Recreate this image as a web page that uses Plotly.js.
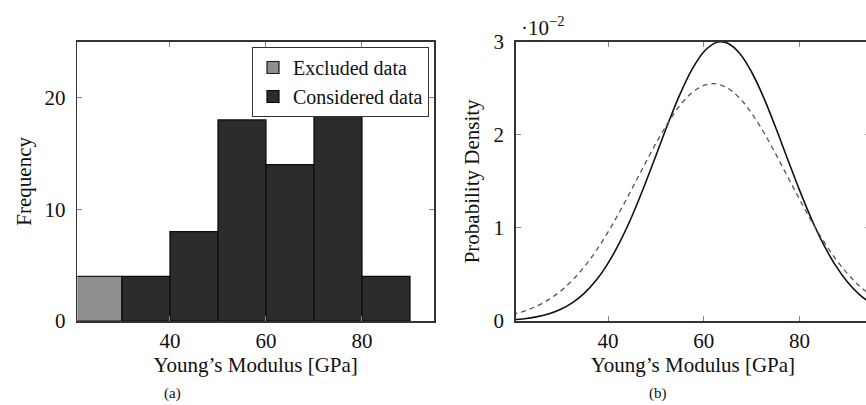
<!DOCTYPE html>
<html>
<head>
<meta charset="utf-8">
<script src="https://cdn.plot.ly/plotly-3.0.1.min.js"></script>
<style>
  html, body { margin: 0; padding: 0; overflow: hidden; background: #fff; }
  #chart { width: 880px; height: 405px; }
</style>
</head>
<body>
<div id="chart"></div>
<script>
// ---- Data ----
// (a) histogram of Young's modulus
const excludedBinCenters = [25];
const excludedCounts = [4];
const consideredBinCenters = [35, 45, 55, 65, 75, 85];
const consideredCounts = [4, 8, 18, 14, 20, 4];
const binWidth = 10;

// (b) probability density curves (values in units of 10^-2)
const modulusSolid = [20, 22.5, 25, 27.5, 30, 32.5, 35, 37.5, 40, 42.5, 45, 47.5, 50, 52.5, 55, 57.5, 60, 62.5, 63.6, 65, 67.5, 70, 72.5, 75, 77.5, 80, 82.5, 85, 87.5, 90, 92.5, 95];
const densitySolid = [0.014, 0.025, 0.044, 0.075, 0.123, 0.195, 0.297, 0.437, 0.622, 0.853, 1.128, 1.442, 1.778, 2.118, 2.434, 2.70, 2.892, 2.99, 3.0, 2.983, 2.874, 2.672, 2.40, 2.078, 1.738, 1.403, 1.093, 0.822, 0.597, 0.418, 0.283, 0.185];
const modulusDashed = [20, 22.5, 25, 27.5, 30, 32.5, 35, 37.5, 40, 42.5, 45, 47.5, 50, 52.5, 55, 57.5, 60, 61.9, 62.5, 65, 67.5, 70, 72.5, 75, 77.5, 80, 82.5, 85, 87.5, 90, 92.5, 95];
const densityDashed = [0.070, 0.107, 0.158, 0.227, 0.318, 0.436, 0.581, 0.755, 0.957, 1.181, 1.422, 1.669, 1.909, 2.128, 2.314, 2.451, 2.531, 2.55, 2.549, 2.500, 2.392, 2.230, 2.027, 1.795, 1.550, 1.305, 1.071, 0.857, 0.668, 0.508, 0.376, 0.272];

// ---- Labels ----
const xTitle = 'Young’s Modulus [GPa]';
const yTitleA = 'Frequency';
const yTitleB = 'Probability Density';
const xTickVals = [40, 60, 80];
const yTickValsA = [0, 10, 20];
const yTickValsB = [0, 1, 2, 3];

const W = 880, H = 405;
const FONT = 'Liberation Serif, Times New Roman, serif';
const TXT = '#111';

const traces = [
  {
    type: 'bar', name: 'Excluded data',
    x: excludedBinCenters, y: excludedCounts, width: binWidth,
    marker: { color: '#8e8e8e', line: { color: '#1a1a1a', width: 1.2 } },
    xaxis: 'x', yaxis: 'y'
  },
  {
    type: 'bar', name: 'Considered data',
    x: consideredBinCenters, y: consideredCounts, width: binWidth,
    marker: { color: '#2c2c2c', line: { color: '#0a0a0a', width: 1.2 } },
    xaxis: 'x', yaxis: 'y'
  },
  {
    type: 'scatter', mode: 'lines', showlegend: false,
    x: modulusSolid, y: densitySolid,
    line: { color: '#111', width: 1.6, shape: 'spline' },
    xaxis: 'x2', yaxis: 'y2'
  },
  {
    type: 'scatter', mode: 'lines', showlegend: false,
    x: modulusDashed, y: densityDashed,
    line: { color: '#555', width: 1.3, dash: '5px,4px', shape: 'spline' },
    xaxis: 'x2', yaxis: 'y2'
  }
];

const axisCommon = {
  showline: true, linecolor: '#333', linewidth: 1.5, mirror: 'allticks',
  ticks: 'inside', ticklen: 5, tickcolor: '#888', tickwidth: 1,
  showgrid: false, zeroline: false, automargin: false,
  tickfont: { family: FONT, size: 21, color: TXT }
};

const yDom = [(H - 321) / H, (H - 41.7) / H];

const layout = {
  width: W, height: H,
  margin: { l: 0, r: 0, t: 0, b: 0 },
  paper_bgcolor: '#fff', plot_bgcolor: '#fff',
  font: { family: FONT, size: 21, color: TXT },
  barmode: 'overlay',
  showlegend: true,
  legend: {
    x: 429 / W, xanchor: 'right', y: (H - 47) / H, yanchor: 'top',
    bgcolor: '#fff', bordercolor: '#333', borderwidth: 1,
    font: { family: FONT, size: 20, color: TXT },
    tracegroupgap: 0, itemwidth: 30
  },
  xaxis: Object.assign({}, axisCommon, {
    domain: [77.3 / W, 434 / W], range: [20.7, 95], tickvals: xTickVals,
    anchor: 'y', ticklabelstandoff: 0,
    title: { text: xTitle, font: { family: FONT, size: 21, color: TXT }, standoff: 4 }
  }),
  yaxis: Object.assign({}, axisCommon, {
    domain: yDom, range: [0, 25], tickvals: yTickValsA, anchor: 'x',
    ticklabelstandoff: 6,
    title: { text: yTitleA, font: { family: FONT, size: 21, color: TXT }, standoff: 7 }
  }),
  xaxis2: Object.assign({}, axisCommon, {
    domain: [515.7 / W, 870 / W], range: [20.7, 94.7], tickvals: xTickVals,
    anchor: 'y2', ticklabelstandoff: 0,
    title: { text: xTitle, font: { family: FONT, size: 21, color: TXT }, standoff: 4 }
  }),
  yaxis2: Object.assign({}, axisCommon, {
    domain: yDom, range: [0, 3], tickvals: yTickValsB, anchor: 'x2',
    ticklabelstandoff: 6,
    title: { text: yTitleB, font: { family: FONT, size: 21, color: TXT }, standoff: 8 }
  }),
  annotations: [
    { text: '(a)', x: 172 / W, y: (H - 393) / H, xref: 'paper', yref: 'paper',
      xanchor: 'center', yanchor: 'middle', showarrow: false,
      font: { family: FONT, size: 15, color: TXT } },
    { text: '(b)', x: 658 / W, y: (H - 393) / H, xref: 'paper', yref: 'paper',
      xanchor: 'center', yanchor: 'middle', showarrow: false,
      font: { family: FONT, size: 15, color: TXT } },
    { text: '·10<sup>−2</sup>', x: 519 / W, y: (H - 26) / H, xref: 'paper', yref: 'paper',
      xanchor: 'left', yanchor: 'middle', showarrow: false,
      font: { family: FONT, size: 21, color: TXT } }
  ]
};

Plotly.newPlot('chart', traces, layout, { displayModeBar: false, staticPlot: true });
</script>
</body>
</html>
